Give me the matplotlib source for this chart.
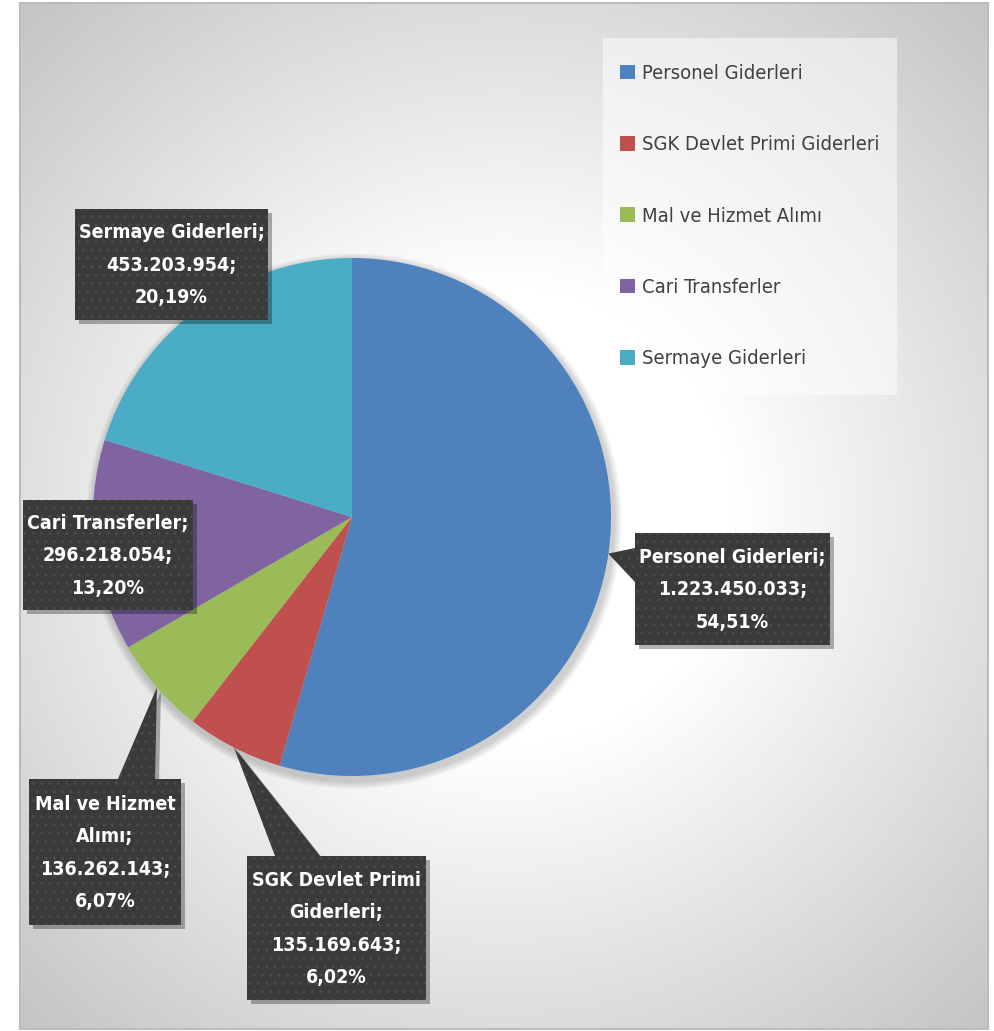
import numpy as np
import matplotlib.pyplot as plt
from matplotlib.patches import Polygon, Rectangle, Circle, Patch

names = ["Personel Giderleri", "SGK Devlet Primi Giderleri", "Mal ve Hizmet Alımı",
         "Cari Transferler", "Sermaye Giderleri"]
values = [1223450033, 135169643, 136262143, 296218054, 453203954]
colors = ["#4f81bd", "#c0504d", "#9bbb59", "#8064a2", "#4bacc6"]
# how the names wrap inside the callouts
box_names = ["Personel Giderleri", "SGK Devlet Primi\nGiderleri", "Mal ve Hizmet\nAlımı",
             "Cari Transferler", "Sermaye Giderleri"]

W, H = 995, 1031

# callout boxes in pixels (x0, y0, x1, y1) and pointer base on the box edge
boxes = [(635, 533, 830, 645), (247, 856, 426, 1000), (29, 779, 181, 925),
         (23, 500, 193, 610), (75, 209, 268, 320)]
bases = [((635, 548), (635, 582)), ((275, 856), (320, 856)), ((118, 779), (155, 779)),
         None, None]

cx, cy, R = 352, 517, 259

fig = plt.figure(figsize=(W / 100, H / 100), dpi=100)
ax = fig.add_axes([0, 0, 1, 1])

# background: radial grey gradient from the middle of the chart area
yy, xx = np.mgrid[3:1029, 20:988]
d = np.hypot(xx - 504, yy - 516)
g = 1.0 - 0.23 * np.clip((d - 230) / 470, 0, 1.05)
ax.imshow(np.dstack([g, g, g]), extent=(20, 988, 1029, 3), origin="upper",
          interpolation="bilinear", zorder=0)
ax.add_patch(Rectangle((20, 3), 968, 1026, fill=False, ec="#bcbcbc", lw=1.5, zorder=1))

# soft shadow under the pie
for k in range(8):
    ax.add_patch(Circle((cx + 2, cy + 4), R + 9 - k, color="#000000", alpha=0.025,
                        lw=0, zorder=2))

wedges, _ = ax.pie(values, colors=colors, startangle=-90, counterclock=True,
                   center=(cx, cy), radius=R, frame=True,
                   wedgeprops=dict(linewidth=0, zorder=3))

ax.set_xlim(0, W)
ax.set_ylim(H, 0)
ax.axis("off")

total = sum(values)
for i, w in enumerate(wedges):
    x0, y0, x1, y1 = boxes[i]
    pts = [(x0, y0), (x1, y0), (x1, y1), (x0, y1)]
    shapes = [pts]
    if bases[i] is not None:
        mid = np.deg2rad((w.theta1 + w.theta2) / 2)
        tip = (cx + R * np.cos(mid), cy + R * np.sin(mid))
        shapes.append([tip, bases[i][0], bases[i][1]])
    for s in shapes:
        sh = [(px + 4, py + 4) for px, py in s]
        ax.add_patch(Polygon(sh, closed=True, fc="#000000", alpha=0.3, lw=0, zorder=5))
    for s in shapes:
        ax.add_patch(Polygon(s, closed=True, fc="#3a3a3a", lw=0, zorder=6))
        ax.add_patch(Polygon(s, closed=True, fill=False, hatch="..", ec="#4b4b4b",
                             lw=0, zorder=7))
    num = f"{values[i]:,}".replace(",", ".")
    pct = f"{100 * values[i] / total:.2f}".replace(".", ",") + "%"
    txt = f"{box_names[i]};\n{num};\n{pct}"
    ax.text((x0 + x1) / 2, (y0 + y1) / 2 + 1, txt, color="white", fontsize=14,
            fontweight="bold", family="DejaVu Sans", fontstretch="condensed",
            ha="center", va="center", linespacing=1.9, zorder=8)

# legend panel
ax.add_patch(Rectangle((603, 38), 294, 357, fc="white", alpha=0.5, lw=0, zorder=4))
handles = [Patch(fc=c, ec="none") for c in colors]
leg = ax.legend(handles, names, loc="upper left",
                bbox_to_anchor=(620 / W, 1 - 64 / H), borderaxespad=0,
                prop=dict(family="DejaVu Sans", stretch="condensed", size=14.5),
                labelcolor="#404040", frameon=False, borderpad=0,
                labelspacing=2.6, handlelength=0.75, handleheight=0.75,
                handletextpad=0.35)
leg.set_zorder(9)

fig.savefig("out.png", dpi=100)
